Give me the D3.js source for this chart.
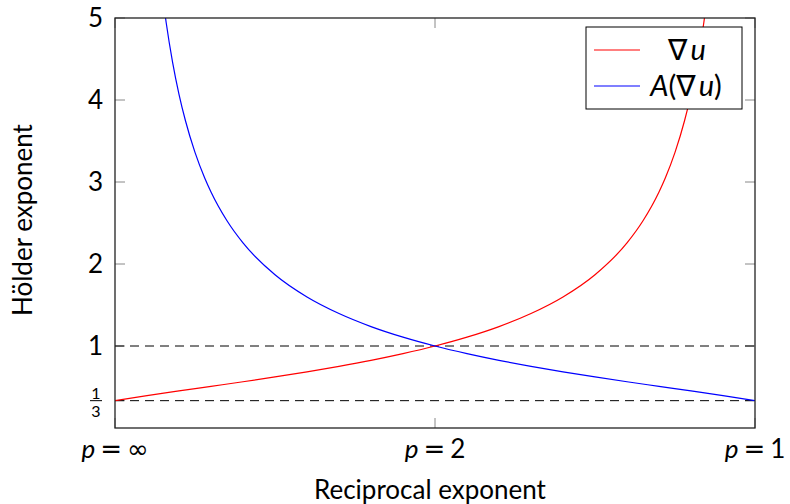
<!DOCTYPE html>
<html><head><meta charset="utf-8">
<script src="https://cdn.jsdelivr.net/npm/d3@7"></script>
<style>html,body{margin:0;padding:0;background:#fff;}svg{display:block;font-family:Lato,"DejaVu Sans",sans-serif;}</style>
</head><body>
<svg id="chart" width="790" height="504"></svg>
<script>
// Data (reciprocal exponent 1/p on x, Hölder exponent on y)
const xRed = [0,0.05,0.1,0.15,0.2,0.25,0.3,0.35,0.4,0.45,0.5,0.55,0.6,0.65,0.7,0.75,0.8,0.825,0.85,0.86,0.875,0.89,0.9,0.91,0.92,0.93];
const yRed = [0.333,0.395,0.452,0.508,0.564,0.623,0.685,0.752,0.825,0.907,1.0,1.108,1.237,1.396,1.598,1.869,2.257,2.527,2.878,3.052,3.361,3.750,4.070,4.460,4.942,5.559];
const xBlue = [0.07,0.08,0.09,0.1,0.11,0.125,0.14,0.15,0.175,0.2,0.25,0.3,0.35,0.4,0.45,0.5,0.55,0.6,0.65,0.7,0.75,0.8,0.85,0.9,0.95,1.0];
const yBlue = [5.559,4.942,4.460,4.070,3.750,3.361,3.052,2.878,2.527,2.257,1.869,1.598,1.396,1.237,1.108,1.0,0.907,0.825,0.752,0.685,0.623,0.564,0.508,0.452,0.395,0.333];
const xTickVals = [0, 0.5, 1];
const xTickLabels = ["∞", "2", "1"];
const yTickVals = [1/3, 1, 2, 3, 4, 5];
const yTickLabels = ["1/3", "1", "2", "3", "4", "5"];
const dashedLevels = [1, 1/3];
const seriesNames = ["∇u", "A(∇u)"];

const svg = d3.select("#chart");
const L = 115, R = 755, T = 18, B = 428;
const x = d3.scaleLinear().domain([0, 1]).range([L, R]);
const y = d3.scaleLinear().domain([0, 5]).range([B, T]);

svg.append("defs").append("clipPath").attr("id", "clip")
  .append("rect").attr("x", L).attr("y", T).attr("width", R - L).attr("height", B - T);

// ticks (inside, both sides)
const tickLen = 10;
const tg = svg.append("g").attr("stroke", "#888").attr("stroke-width", 1);
yTickVals.forEach(v => {
  tg.append("line").attr("x1", L).attr("x2", L + tickLen).attr("y1", y(v)).attr("y2", y(v));
  tg.append("line").attr("x1", R).attr("x2", R - tickLen).attr("y1", y(v)).attr("y2", y(v));
});
xTickVals.forEach(v => {
  tg.append("line").attr("x1", x(v)).attr("x2", x(v)).attr("y1", B).attr("y2", B - tickLen);
  tg.append("line").attr("x1", x(v)).attr("x2", x(v)).attr("y1", T).attr("y2", T + tickLen);
});

// dashed reference lines
dashedLevels.forEach(v => {
  svg.append("line").attr("x1", L).attr("x2", R).attr("y1", y(v)).attr("y2", y(v))
    .attr("stroke", "#000").attr("stroke-width", 1).attr("stroke-dasharray", "9,6");
});

const line = d3.line().x(d => x(d[0])).y(d => y(d[1])).curve(d3.curveMonotoneX);
const cg = svg.append("g").attr("clip-path", "url(#clip)");
cg.append("path").datum(xRed.map((v, i) => [v, yRed[i]])).attr("d", line)
  .attr("fill", "none").attr("stroke", "#ff0000").attr("stroke-width", 1.2);
cg.append("path").datum(xBlue.map((v, i) => [v, yBlue[i]])).attr("d", line)
  .attr("fill", "none").attr("stroke", "#0000ff").attr("stroke-width", 1.2);

// frame
svg.append("rect").attr("x", L).attr("y", T).attr("width", R - L).attr("height", B - T)
  .attr("fill", "none").attr("stroke", "#222").attr("stroke-width", 1.3);

// y tick labels
yTickVals.forEach((v, i) => {
  const lab = yTickLabels[i];
  if (lab.includes("/")) {
    const [n, d] = lab.split("/");
    const cx = 96;
    svg.append("text").attr("x", cx).attr("y", y(v) - 2).attr("text-anchor", "middle")
      .attr("font-size", 16).text(n);
    svg.append("text").attr("x", cx).attr("y", y(v) + 16).attr("text-anchor", "middle")
      .attr("font-size", 16).text(d);
    svg.append("line").attr("x1", cx - 6).attr("x2", cx + 6).attr("y1", y(v)).attr("y2", y(v))
      .attr("stroke", "#000").attr("stroke-width", 1);
  } else {
    svg.append("text").attr("x", 103).attr("y", y(v)).attr("dy", "0.36em")
      .attr("text-anchor", "end").attr("font-size", 26).text(lab);
  }
});

// x tick labels
xTickVals.forEach((v, i) => {
  const t = svg.append("text").attr("x", x(v)).attr("y", 458).attr("text-anchor", "middle")
    .attr("font-size", 26);
  t.append("tspan").attr("font-style", "italic").text("p");
  t.append("tspan").attr("dx", 5).attr("font-family", "DejaVu Sans").text("=");
  t.append("tspan").attr("dx", 5).attr("font-family", i === 0 ? "DejaVu Sans" : null).text(xTickLabels[i]);
});

// axis titles
svg.append("text").attr("x", 430).attr("y", 499).attr("text-anchor", "middle")
  .attr("font-size", 26).text("Reciprocal exponent");
svg.append("text").attr("transform", `translate(32,${(T + B) / 2 - 3}) rotate(-90)`)
  .attr("text-anchor", "middle").attr("font-size", 26).text("Hölder exponent");

// legend
const lg = svg.append("g");
lg.append("rect").attr("x", 586).attr("y", 27).attr("width", 156).attr("height", 82)
  .attr("fill", "#fff").attr("stroke", "#000").attr("stroke-width", 1);
const legendColors = ["#ff0000", "#0000ff"];
const legendY = [50, 86];
seriesNames.forEach((nm, i) => {
  lg.append("line").attr("x1", 594).attr("x2", 640).attr("y1", legendY[i]).attr("y2", legendY[i])
    .attr("stroke", legendColors[i]).attr("stroke-width", 1.2);
  const t = lg.append("text").attr("x", i === 0 ? 687 : 686).attr("y", legendY[i]).attr("dy", "0.36em")
    .attr("text-anchor", "middle").attr("font-size", 29);
  if (i === 0) {
    t.append("tspan").text("∇");
    t.append("tspan").attr("dx", 3).attr("font-style", "italic").text("u");
  } else {
    t.append("tspan").attr("font-style", "italic").text("A");
    t.append("tspan").text("(∇");
    t.append("tspan").attr("dx", 3).attr("font-style", "italic").text("u");
    t.append("tspan").text(")");
  }
});
</script>
</body></html>
